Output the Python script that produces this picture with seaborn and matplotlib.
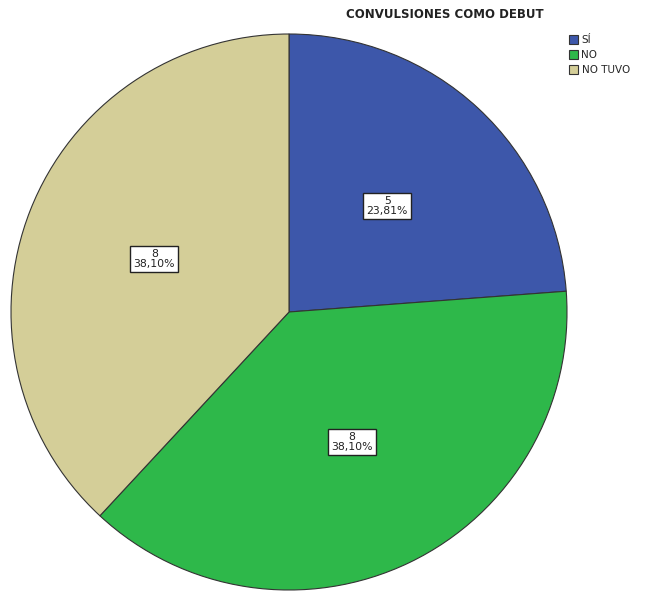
import matplotlib
matplotlib.use("Agg")
import matplotlib.pyplot as plt
import seaborn as sns
from matplotlib.patches import Patch

sns.set_theme(style="white")
plt.rcParams['font.family'] = ['DejaVu Sans']

categories = ["SÍ", "NO", "NO TUVO"]
counts = [5, 8, 8]
colors = ["#3D57AA", "#2EB84A", "#D4CE98"]
title = "CONVULSIONES COMO DEBUT"

fig = plt.figure(figsize=(6.45, 5.92), dpi=100)
ax = fig.add_axes([11/645, 2/592, 556/645, 556/592])
total = sum(counts)
labels = [f"{c}\n{c/total*100:.2f}%".replace(".", ",") for c in counts]
wedges, texts = ax.pie(counts, colors=colors, startangle=90, counterclock=False,
                       labels=labels, labeldistance=0.52,
                       wedgeprops=dict(edgecolor="#333333", linewidth=0.8),
                       textprops=dict(fontsize=7.8, ha="center", va="center",
                                      linespacing=0.95, color="#222222"))
for t in texts:
    t.set_horizontalalignment("center")
    t.set_multialignment("center")
    t.set_bbox(dict(facecolor="white", edgecolor="#222222", linewidth=1.0, boxstyle="square,pad=0.3"))
ax.set_xlim(-1, 1)
ax.set_ylim(-1, 1)
ax.set_aspect("equal")
ax.axis("off")

fig.text(445/645, 1 - 15/592, title, ha="center", va="center", fontsize=8.5, fontweight="bold", color="#222222")
handles = [Patch(facecolor=c, edgecolor="#333333", linewidth=0.8) for c in colors]
fig.legend(handles, categories, loc="upper left", bbox_to_anchor=(569/645, 1 - 35/592),
           frameon=False, fontsize=7.5, handlelength=0.9, handleheight=1.0,
           handletextpad=0.3, labelspacing=0.45, borderaxespad=0, borderpad=0)

fig.savefig("out.png", dpi=100)
